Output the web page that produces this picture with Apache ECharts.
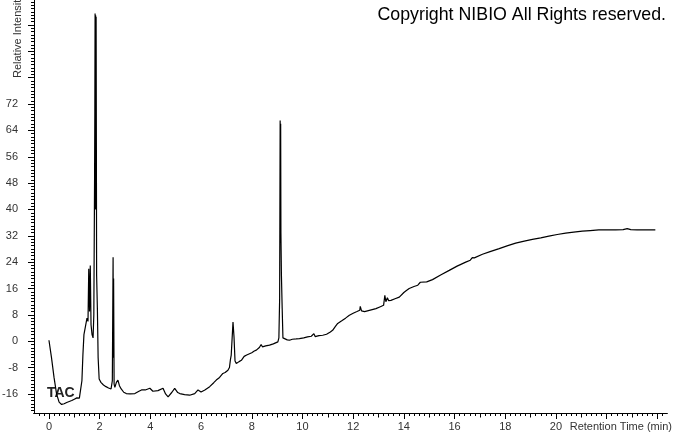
<!DOCTYPE html>
<html>
<head>
<meta charset="utf-8">
<script src="https://cdn.jsdelivr.net/npm/echarts@6/dist/echarts.min.js"></script>
<style>
html,body{margin:0;padding:0;background:#fff;}
#chart{width:673px;height:433px;}
</style>
</head>
<body>
<div id="chart"></div>
<script>
// Retention time (min)
var times = [
0.00,0.10,0.20,0.30,0.40,0.50,0.60,0.70,0.80,0.90,1.00,1.10,1.20,1.26,1.30,1.34,1.38,1.44,1.50,1.54,
1.57,1.60,1.63,1.66,1.70,1.74,1.77,1.80,1.81,1.82,1.83,1.84,1.85,1.86,1.87,1.88,1.91,1.94,1.98,2.05,2.15,2.25,2.35,2.45,2.50,
2.53,2.54,2.55,2.57,2.60,2.66,2.72,2.78,2.85,2.95,3.05,3.20,3.39,3.55,3.65,3.80,3.98,4.10,4.17,4.30,4.50,4.60,
4.70,4.85,4.96,5.08,5.16,5.35,5.55,5.75,5.88,6.00,6.15,6.34,6.50,6.60,6.73,6.86,6.95,7.06,7.12,7.16,
7.19,7.22,7.26,7.30,7.34,7.39,7.50,7.59,7.70,7.80,7.85,8.00,8.10,8.18,8.30,8.37,8.42,8.55,8.70,8.85,
9.03,9.07,9.10,9.11,9.12,9.13,9.14,9.15,9.17,9.20,9.23,9.29,9.40,9.49,9.60,9.75,9.88,10.05,10.20,10.35,10.45,10.50,10.65,
10.80,10.95,11.10,11.19,11.30,11.39,11.55,11.70,11.85,12.00,12.15,12.26,12.28,12.33,12.45,12.60,12.75,12.90,13.05,13.20,
13.25,13.29,13.35,13.40,13.49,13.65,13.82,14.00,14.10,14.21,14.40,14.55,14.65,14.72,14.90,15.13,15.45,15.79,16.10,16.44,
16.62,16.70,16.78,17.10,17.40,17.76,18.10,18.41,18.75,19.07,19.40,19.72,20.05,20.38,20.70,21.04,21.35,21.69,22.00,22.35,
22.65,22.81,22.95,23.20,23.50,23.92
];
// Relative intensity
var intensity = [
0.3,-5,-11,-16,-18.5,-19.2,-19.0,-18.6,-18.3,-18.0,-17.6,-17.2,-17.3,-16.8,-12,-4,2,4.5,7,6,
22,9,23,5,2,1,8,50,70,99.5,40,99,45,98.5,60,20,10,-5,-11.5,-12.5,-13.3,-13.8,-14.2,-14.5,-12,
25.5,-5,19,-13,-14,-12.5,-11.8,-13.5,-14.5,-15.5,-15.9,-16.0,-15.9,-15.2,-14.8,-14.8,-14.3,-15.2,-15.4,-15.0,-14.3,-16.0,
-16.9,-15.5,-14.3,-15.6,-15.9,-16.2,-16.4,-15.9,-14.8,-15.4,-14.8,-13.8,-12.6,-11.8,-11.0,-9.8,-9.5,-8.8,-8.0,-5.5,
-4.2,-4.5,5.8,1.3,-6.0,-6.8,-6.2,-5.8,-4.6,-4.2,-3.7,-3.5,-3.0,-2.7,-1.9,-1.0,-1.7,-1.4,-1.2,-0.8,
-0.2,1.0,13,40,67,30,66,33,20,10,1.0,0.8,0.4,0.3,0.6,0.7,0.8,1.0,1.3,1.5,2.3,1.4,1.7,
1.8,2.1,2.8,3.3,4.5,5.4,6.2,7.0,7.9,8.5,9.0,9.4,10.6,9.2,9.0,9.3,9.6,9.9,10.4,10.9,
13.9,12.0,13.2,12.3,12.4,12.9,13.4,14.8,15.4,16.0,16.6,17.0,17.9,17.4,18.0,18.7,20.1,21.5,22.8,24.0,
24.6,25.4,25.3,26.4,27.2,28.1,29.0,29.8,30.4,30.9,31.4,31.9,32.4,32.8,33.1,33.4,33.6,33.8,33.8,33.8,
33.9,34.2,33.9,33.8,33.8,33.8
];
// Tick labels
var xTickLabels = [0,2,4,6,8,10,12,14,16,18,20];
var yTickLabels = [-16,-8,0,8,16,24,32,40,48,56,64,72];

var X_MIN = -0.59, X_MAX = 24.38, Y_MIN = -21.8, Y_MAX = 103.6;

var xMajorTicks = [], xMidTicks = [], xMinorTicks = [];
for (var i = 0; i <= 24; i += 2) xMajorTicks.push(i);
for (var i = 1; i <= 23; i += 2) xMidTicks.push(i);
for (var k = -2; k <= 121; k++) { var v = Math.round(k * 2) / 10; if (v > X_MIN && v < X_MAX) xMinorTicks.push(v); }
var yMajorTicks = [], yMinorTicks = [];
for (var i = -16; i <= 96; i += 8) yMajorTicks.push(i);
for (var i = -21; i <= 103; i++) yMinorTicks.push(i);

var data = times.map(function (t, i) { return [t, intensity[i]]; });
var FONT = '"Liberation Sans", Arial, sans-serif';

function xAx(ticks, len, labels) {
  return {
    type: 'value', position: 'bottom', min: X_MIN, max: X_MAX,
    axisLine: { show: true, onZero: false, lineStyle: { color: '#000', width: 1 } },
    axisTick: { show: true, customValues: ticks, length: len, lineStyle: { color: '#000' } },
    axisLabel: labels ? { show: true, customValues: labels, margin: 8, color: '#333', fontSize: 11, fontFamily: FONT } : { show: false },
    splitLine: { show: false }
  };
}
function yAx(ticks, len, labels) {
  return {
    type: 'value', position: 'left', min: Y_MIN, max: Y_MAX,
    axisLine: { show: true, onZero: false, lineStyle: { color: '#000', width: 1 } },
    axisTick: { show: true, customValues: ticks, length: len, lineStyle: { color: '#000' } },
    axisLabel: labels ? { show: true, customValues: labels, margin: 16, color: '#333', fontSize: 11, fontFamily: FONT } : { show: false },
    splitLine: { show: false }
  };
}

var chart = echarts.init(document.getElementById('chart'), null, { renderer: 'canvas' });
chart.setOption({
  animation: false,
  backgroundColor: '#fff',
  grid: { left: 34, right: 6, top: 0, bottom: 20, containLabel: false, outerBoundsMode: 'none' },
  xAxis: [xAx(xMajorTicks, 6, xTickLabels), xAx(xMidTicks, 4.5, null), xAx(xMinorTicks, 3, null)],
  yAxis: [yAx(yMajorTicks, 6, yTickLabels), yAx(yMinorTicks, 3, null)],
  series: [{
    type: 'line', data: data, xAxisIndex: 0, yAxisIndex: 0,
    showSymbol: false, symbol: 'none', smooth: false,
    lineStyle: { color: '#000', width: 1.2 }, clip: true
  }],
  graphic: [
    { type: 'text', x: 666, y: 15, style: { text: 'Copyright NIBIO All Rights reserved.', fontSize: 17.8, fontFamily: FONT, fill: '#000', align: 'right', verticalAlign: 'middle' } },
    { type: 'text', x: 672, y: 427, style: { text: 'Retention Time (min)', fontSize: 11, fontFamily: FONT, fill: '#333', align: 'right', verticalAlign: 'middle' } },
    { type: 'text', x: 18, y: 78, rotation: Math.PI / 2, style: { text: 'Relative Intensity', fontSize: 11, fontFamily: FONT, fill: '#333', align: 'left', verticalAlign: 'middle' } },
    { type: 'text', x: 47, y: 393, style: { text: 'TAC', fontSize: 14, fontWeight: 'bold', fontFamily: FONT, fill: '#222', align: 'left', verticalAlign: 'middle' } }
  ]
});
</script>
</body>
</html>
